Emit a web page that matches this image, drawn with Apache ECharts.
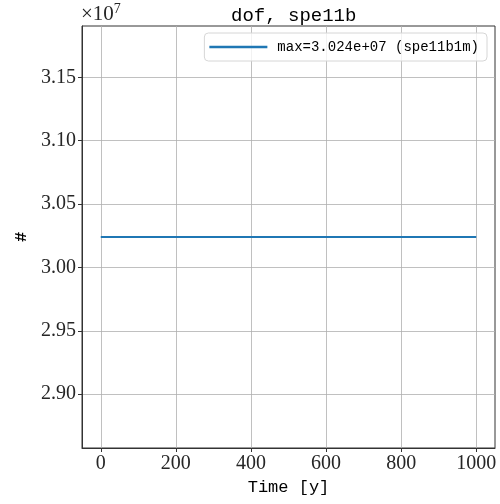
<!DOCTYPE html>
<html>
<head>
<meta charset="utf-8">
<script src="https://cdn.jsdelivr.net/npm/echarts@6/dist/echarts.min.js"></script>
<style>
  html, body { margin: 0; padding: 0; background: #fff; }
  #chart { width: 500px; height: 504px; }
</style>
</head>
<body>
<div id="chart"></div>
<script>
// data
var times = [0, 1000];
var dofValues = [30240000, 30240000];
var seriesName = 'max=3.024e+07 (spe11b1m)';
var xTicks = [0, 200, 400, 600, 800, 1000];
var yTicks = [2.90, 2.95, 3.00, 3.05, 3.10, 3.15];
var yScale = 1e7;

var serif = '"Liberation Serif", "DejaVu Serif", serif';
var mono = '"Liberation Mono", "DejaVu Sans Mono", monospace';

var chart = echarts.init(document.getElementById('chart'));

var points = times.map(function (t, i) { return [t, dofValues[i]]; });
var yTickValues = yTicks.map(function (v) { return v * yScale; });

var option = {
    animation: false,
    title: {
        text: 'dof, spe11b',
        left: 226,
        top: 1,
        textStyle: { fontFamily: mono, fontSize: 19, fontWeight: 'normal', color: '#000' }
    },
    grid: {
        left: 82,
        right: 5,
        top: 26,
        bottom: 56,
        outerBoundsMode: 'none',
        containLabel: false,
        show: true,
        borderColor: '#333',
        borderWidth: 1,
        backgroundColor: 'transparent'
    },
    legend: {
        right: 13,
        top: 33,
        icon: 'rect',
        itemWidth: 58,
        itemHeight: 2.5,
        itemGap: 8,
        padding: [7, 8, 7, 5],
        borderColor: '#d6d6d6',
        borderWidth: 1,
        borderRadius: 4,
        backgroundColor: 'rgba(255,255,255,0.8)',
        textStyle: { fontFamily: mono, fontSize: 14, color: '#000', padding: [0, 0, 0, 5] },
        data: [seriesName]
    },
    xAxis: {
        type: 'value',
        min: -50,
        max: 1050,
        name: 'Time [y]',
        nameLocation: 'middle',
        nameGap: 30,
        nameTextStyle: { fontFamily: mono, fontSize: 17, color: '#000' },
        axisLine: { show: true, onZero: false, lineStyle: { color: '#333', width: 1 } },
        axisTick: { show: true, length: 4, customValues: xTicks, lineStyle: { color: '#333' } },
        axisLabel: {
            customValues: xTicks,
            fontFamily: serif,
            fontSize: 20,
            color: '#262626',
            margin: 6,
            formatter: function (v) { return String(v); }
        },
        splitLine: { show: true, lineStyle: { color: '#b0b0b0', width: 0.8 } }
    },
    yAxis: {
        type: 'value',
        min: 28575000,
        max: 31905000,
        name: '#',
        nameLocation: 'middle',
        nameGap: 51,
        nameRotate: 90,
        nameTextStyle: { fontFamily: mono, fontSize: 17, fontWeight: 'bold', color: '#000' },
        axisLine: { show: true, onZero: false, lineStyle: { color: '#333', width: 1 } },
        axisTick: { show: true, length: 4, customValues: yTickValues, lineStyle: { color: '#333' } },
        axisLabel: {
            customValues: yTickValues,
            fontFamily: serif,
            fontSize: 20,
            color: '#262626',
            margin: 6,
            formatter: function (v) { return (v / yScale).toFixed(2); }
        },
        splitLine: { show: true, lineStyle: { color: '#b0b0b0', width: 0.8 } }
    },
    graphic: [{
        type: 'text',
        left: 81,
        top: 2,
        style: {
            text: '{a|×10}{s|7}',
            rich: {
                a: { fontFamily: serif, fontSize: 21, fill: '#262626' },
                s: { fontFamily: serif, fontSize: 14, fill: '#262626', verticalAlign: 'top', padding: [0, 0, 10, 0] }
            }
        }
    }],
    series: [{
        name: seriesName,
        type: 'line',
        data: points,
        symbol: 'none',
        lineStyle: { color: '#1f77b4', width: 2 },
        itemStyle: { color: '#1f77b4' }
    }]
};

chart.setOption(option);
</script>
</body>
</html>
